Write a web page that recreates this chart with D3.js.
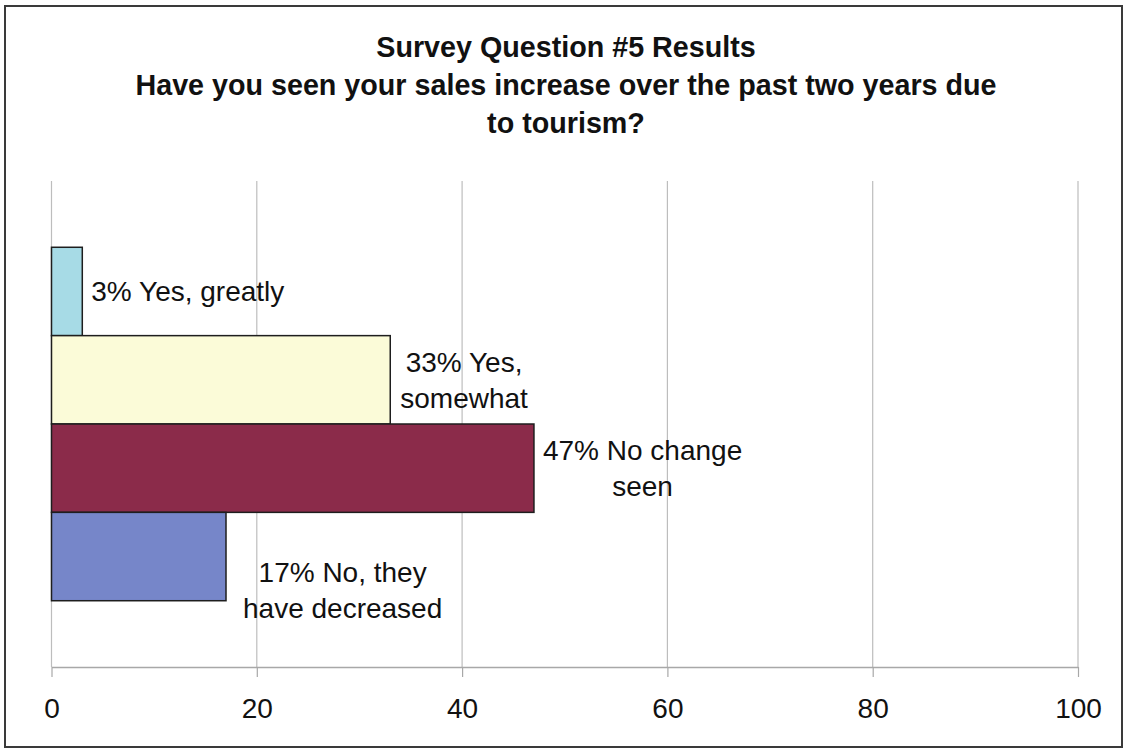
<!DOCTYPE html>
<html>
<head>
<meta charset="utf-8">
<script src="https://cdn.jsdelivr.net/npm/d3@7"></script>
<style>
  html, body { margin: 0; padding: 0; background: #ffffff; }
  svg { display: block; }
  text { font-family: "Liberation Sans", Arial, Helvetica, sans-serif; fill: #111; }
</style>
</head>
<body>
<svg id="chart" width="1125" height="749"></svg>
<script>
// ---- data ----
const titleLines = [
  "Survey Question #5 Results",
  "Have you seen your sales increase over the past two years due",
  "to tourism?"
];
const categories = ["Yes, greatly", "Yes, somewhat", "No change seen", "No, they have decreased"];
const values = [3, 33, 47, 17];
const labelLines = [
  ["3% Yes, greatly"],
  ["33% Yes,", "somewhat"],
  ["47% No change", "seen"],
  ["17% No, they", "have decreased"]
];
const tickValues = [0, 20, 40, 60, 80, 100];
const xDomain = [0, 100];

// ---- style / layout ----
const colors = ["#a7dbe6", "#fbfbd8", "#8b2b4a", "#7686c9"];
const labelOffsets = [[9, 0], [10, 0], [9, 0], [17, 33]];
const plot = { left: 51.5, right: 1078, top: 181, bottom: 667 };

const svg = d3.select("#chart");

// outer border
svg.append("rect")
  .attr("x", 5).attr("y", 6)
  .attr("width", 1117).attr("height", 741)
  .attr("fill", "#ffffff")
  .attr("stroke", "#3a3a3a").attr("stroke-width", 2);

// title
svg.append("g").selectAll("text").data(titleLines).join("text")
  .attr("x", 566).attr("y", (d, i) => 57 + i * 38)
  .attr("text-anchor", "middle")
  .style("font-size", "28.7px").style("font-weight", "bold")
  .text(d => d);

// scales
const x = d3.scaleLinear().domain(xDomain).range([plot.left, plot.right]);
const y = d3.scaleBand().domain(categories).range([plot.top, plot.bottom])
  .paddingInner(0).paddingOuter(0.75);

// gridlines
svg.append("g").selectAll("line").data(tickValues).join("line")
  .attr("x1", d => x(d)).attr("x2", d => x(d))
  .attr("y1", plot.top).attr("y2", plot.bottom)
  .attr("stroke", "#bdbdbd").attr("stroke-width", 1.2);

// axis
const axis = svg.append("g")
  .attr("transform", `translate(0,${plot.bottom})`)
  .call(d3.axisBottom(x).tickValues(tickValues).tickSize(10).tickSizeOuter(0).tickPadding(21));
axis.select(".domain").attr("stroke", "#a8a8a8").attr("stroke-width", 1.5);
axis.selectAll(".tick line").attr("stroke", "#a8a8a8").attr("stroke-width", 1.2);
axis.selectAll(".tick text")
  .style("font-family", "\"Liberation Sans\", Arial, sans-serif")
  .style("font-size", "28px").attr("fill", "#111");

// bars
svg.append("g").selectAll("rect").data(values).join("rect")
  .attr("x", x(0))
  .attr("y", (d, i) => y(categories[i]))
  .attr("width", d => x(d) - x(0))
  .attr("height", y.bandwidth())
  .attr("fill", (d, i) => colors[i])
  .attr("stroke", "#1e1e1e").attr("stroke-width", 1.5);

// labels
const lh = 36, capH = 20;
values.forEach((v, i) => {
  const lines = labelLines[i];
  const [dx, dy] = labelOffsets[i];
  const left = x(v) + dx;
  const cy = y(categories[i]) + y.bandwidth() / 2 + dy;
  const g = svg.append("g");
  const texts = g.selectAll("text").data(lines).join("text")
    .style("font-size", "28px")
    .attr("y", (d, j) => cy + capH / 2 - (lines.length - 1) * lh / 2 + j * lh)
    .text(d => d);
  let maxW = 0;
  texts.each(function () { maxW = Math.max(maxW, this.getComputedTextLength()); });
  texts.attr("x", left + maxW / 2).attr("text-anchor", "middle");
});
</script>
</body>
</html>
